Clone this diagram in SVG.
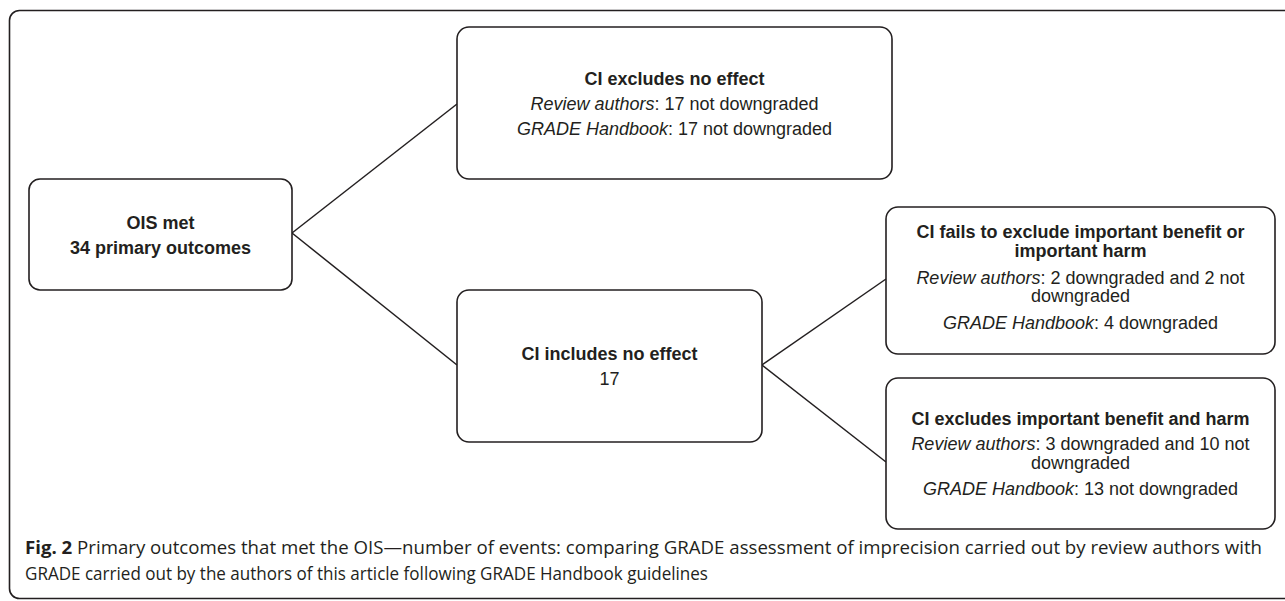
<svg xmlns="http://www.w3.org/2000/svg" width="1285" height="601" viewBox="0 0 1285 601">
<style>
.frame{fill:none;stroke:#231f20;stroke-width:1.6}
.box{fill:#fff;stroke:#231f20;stroke-width:1.6}
.conn{stroke:#231f20;stroke-width:1.5;fill:none}
.t{font-family:"Liberation Sans",Arial,sans-serif;font-size:18px;fill:#231f20;text-anchor:middle}
.b{font-weight:bold}
.i{font-style:italic}
.cap{font-family:"Open Sans","Noto Sans",sans-serif;font-size:17.5px;fill:#231f20}
</style>
<rect class="frame" x="9.5" y="10.5" width="1300" height="588" rx="10"/>
<g id="connectors">
<line class="conn" x1="292" y1="233" x2="457" y2="104"/>
<line class="conn" x1="292" y1="233" x2="457" y2="365"/>
<line class="conn" x1="762" y1="365" x2="886" y2="279"/>
<line class="conn" x1="762" y1="365" x2="886" y2="462"/>
</g>
<g id="node-ois">
<rect class="box" x="29" y="179" width="263" height="111" rx="11"/>
<text class="t b" x="160.5" y="228.5">OIS met</text>
<text class="t b" x="160.5" y="253.5">34 primary outcomes</text>
</g>
<g id="node-excludes">
<rect class="box" x="457" y="27" width="435" height="152" rx="12"/>
<text class="t b" x="674.5" y="84.5">CI excludes no effect</text>
<text class="t" x="674.5" y="109.5"><tspan class="i">Review authors</tspan>: 17 not downgraded</text>
<text class="t" x="674.5" y="134.5"><tspan class="i">GRADE Handbook</tspan>: 17 not downgraded</text>
</g>
<g id="node-includes">
<rect class="box" x="457" y="290" width="305" height="152" rx="12"/>
<text class="t b" x="609.5" y="359.5">CI includes no effect</text>
<text class="t" x="609.5" y="385">17</text>
</g>
<g id="node-fails">
<rect class="box" x="886" y="207" width="389" height="147" rx="12"/>
<text class="t b" x="1080.5" y="238">CI fails to exclude important benefit or</text>
<text class="t b" x="1080.5" y="257">important harm</text>
<text class="t" x="1080.5" y="283.5"><tspan class="i">Review authors</tspan>: 2 downgraded and 2 not</text>
<text class="t" x="1080.5" y="302">downgraded</text>
<text class="t" x="1080.5" y="329"><tspan class="i">GRADE Handbook</tspan>: 4 downgraded</text>
</g>
<g id="node-excl-important">
<rect class="box" x="886" y="378" width="389" height="151" rx="12"/>
<text class="t b" x="1080.5" y="425">CI excludes important benefit and harm</text>
<text class="t" x="1080.5" y="450"><tspan class="i">Review authors</tspan>: 3 downgraded and 10 not</text>
<text class="t" x="1080.5" y="468.5">downgraded</text>
<text class="t" x="1080.5" y="495"><tspan class="i">GRADE Handbook</tspan>: 13 not downgraded</text>
</g>
<text class="cap" x="25" y="554" textLength="1237" lengthAdjust="spacingAndGlyphs"><tspan font-weight="bold">Fig. 2</tspan> Primary outcomes that met the OIS—number of events: comparing GRADE assessment of imprecision carried out by review authors with</text>
<text class="cap" x="25" y="580" textLength="683" lengthAdjust="spacingAndGlyphs">GRADE carried out by the authors of this article following GRADE Handbook guidelines</text>
</svg>
